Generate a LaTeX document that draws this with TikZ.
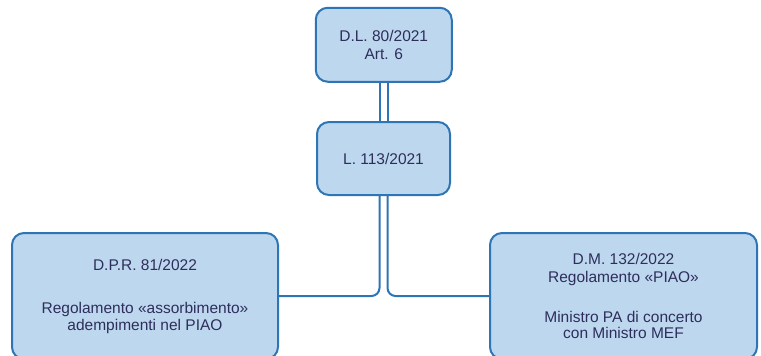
\documentclass[tikz,border=0pt]{standalone}
\usepackage{fontspec}
\setmainfont{Liberation Sans}
\definecolor{boxfill}{HTML}{BDD7EE}
\definecolor{boxline}{HTML}{2E75B6}
\definecolor{boxtext}{HTML}{2E2E5C}
\tikzset{
  normbox/.style={draw=boxline, fill=boxfill, line width=2pt, rounded corners=12pt,
    inner sep=0pt, align=center, text=boxtext,
    font=\fontsize{15.5}{17}\selectfont},
  conn/.style={draw=boxline, line width=2pt},
}
\begin{document}
\begin{tikzpicture}[x=1pt, y=-1pt]
  \useasboundingbox (0,0) rectangle (761,356);

  % boxes
  \node[normbox, minimum width=136pt, minimum height=74pt] (dl) at (383.75,44.75)
    {D.L. 80/2021\\[1.5pt]Art. 6};
  \node[normbox, minimum width=133pt, minimum height=73pt] (legge) at (383.5,158.5)
    {L. 113/2021};
  \node[normbox, minimum width=266pt, minimum height=126pt] (dpr) at (145,296)
    {D.P.R. 81/2022\\[26pt]Regolamento «assorbimento»\\adempimenti nel PIAO};
  \node[normbox, minimum width=267pt, minimum height=126pt] (dm) at (623.5,296)
    {D.M. 132/2022\\[1pt]Regolamento «PIAO»\\[23.5pt]Ministro PA di concerto\\[-1pt]con Ministro MEF};

  % double link between the two upper boxes
  \draw[conn] ([xshift=-4pt]dl.south) -- ([xshift=-4pt]dl.south |- legge.north);
  \draw[conn] ([xshift=4pt]dl.south) -- ([xshift=4pt]dl.south |- legge.north);

  % branches down to the two regulations
  \draw[conn, rounded corners=8pt] ([xshift=-4pt]legge.south) |- (dpr.east);
  \draw[conn, rounded corners=8pt] ([xshift=4pt]legge.south) |- (dm.west);
\end{tikzpicture}
\end{document}
